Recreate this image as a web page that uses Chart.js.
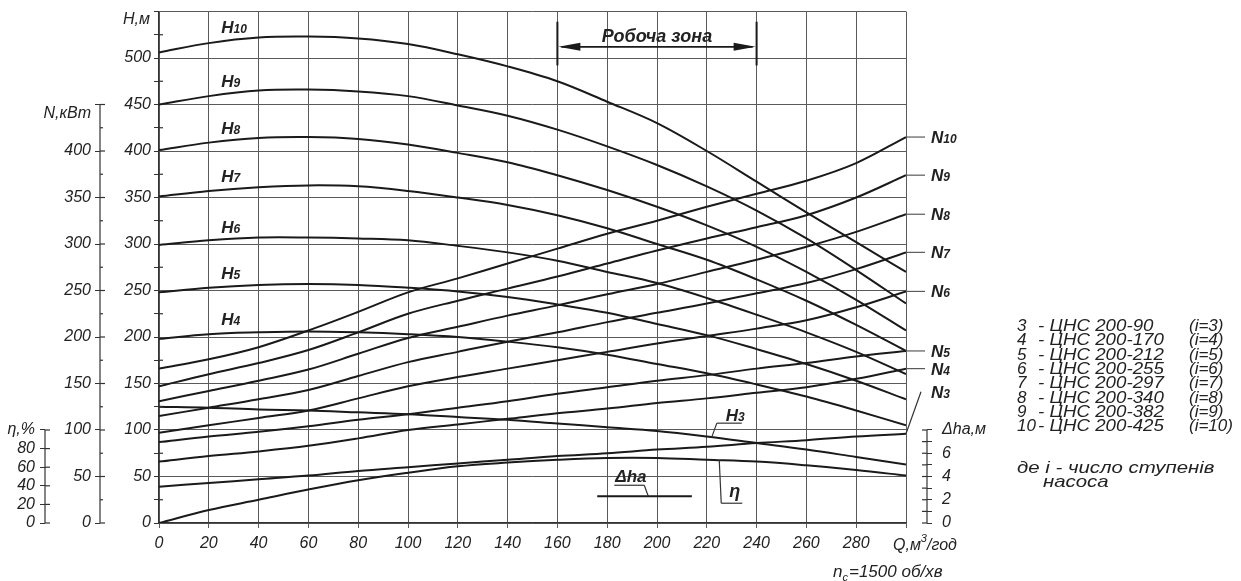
<!DOCTYPE html>
<html>
<head>
<meta charset="utf-8">
<script src="https://cdn.jsdelivr.net/npm/chart.js@4.4.1/dist/chart.umd.min.js"></script>
<style>
  html, body { margin: 0; padding: 0; background: #fff; }
  canvas { display: block; }
</style>
</head>
<body>
<canvas id="pumpChart" width="1241" height="581"></canvas>
<script>
// flow rate, m3/h
const Q = [0, 20, 40, 60, 80, 100, 120, 140, 160, 180, 200, 220, 240, 260, 280, 300];

// head H, m (one curve per number of stages)
const H10 = [506, 516, 522, 523, 521, 515, 504, 491, 475, 453, 430, 400, 367, 334, 302, 270];
const H9 = [450, 459, 465, 466, 464, 459, 449, 438, 423, 405, 385, 362, 336, 306, 272, 236];
const H8 = [401, 409, 414, 415, 413, 407, 398, 388, 374, 358, 340, 320, 297, 270, 240, 207];
const H7 = [351, 357, 361, 363, 362, 357, 350, 342, 331, 317, 300, 283, 262, 239, 213, 185];
const H6 = [299, 304, 307, 307, 306, 304, 298, 291, 282, 270, 258, 242, 224, 205, 184, 160];
const H5 = [248, 253, 256, 257, 256, 253, 249, 243, 235, 226, 214, 202, 187, 171, 153, 133];
const H4 = [198, 203, 205, 206, 205, 203, 200, 195, 189, 181, 171, 161, 149, 136, 121, 105];
const H3 = [125, 124, 122, 121, 119, 117, 114, 111, 107, 103, 99, 93, 86, 79, 71, 63];

// power N, kW
const N10 = [166, 176, 189, 207, 227, 248, 263, 279, 295, 311, 325, 340, 354, 368, 387, 415];
const N9 = [147, 160, 172, 186, 205, 225, 239, 252, 265, 279, 293, 306, 318, 331, 350, 374];
const N8 = [131, 142, 153, 165, 182, 199, 211, 223, 234, 246, 257, 270, 283, 297, 313, 332];
const N7 = [115, 124, 133, 143, 158, 173, 184, 195, 205, 216, 226, 236, 247, 258, 273, 291];
const N6 = [97, 105, 113, 121, 134, 147, 157, 166, 175, 184, 193, 201, 209, 218, 232, 249];
const N5 = [87, 93, 98, 104, 111, 117, 124, 131, 139, 146, 153, 159, 166, 172, 179, 185];
const N4 = [66, 72, 77, 83, 91, 100, 106, 112, 118, 123, 129, 134, 140, 146, 155, 166];
const N3 = [39, 43, 47, 51, 56, 60, 64, 68, 72, 75, 79, 82, 86, 89, 93, 96];

// efficiency, %
const ETA = [0, 14, 25, 36, 46, 54, 61, 65, 68, 70, 70, 68, 66, 62, 57, 51];

// NPSH required, m (only drawn inside working range)
const DHA_Q = [176, 214];
const DHA = [2.3, 2.3];

// working zone limits
const ZONE = [160, 240];

// legend rows
const PUMP_NO = ['3', '4', '5', '6', '7', '8', '9', '10'];
const PUMP_NAME = ['ЦНС 200-90', 'ЦНС 200-170', 'ЦНС 200-212', 'ЦНС 200-255',
  'ЦНС 200-297', 'ЦНС 200-340', 'ЦНС 200-382', 'ЦНС 200-425'];

const NARROW = "'Liberation Sans Narrow', 'Liberation Sans', Arial, sans-serif";
const SANS = "'Liberation Sans', Arial, sans-serif";
const INK = '#1a1a1a';
const GRID = '#5a5a5a';
const TEXT = '#222';
const NONE = 'rgba(0,0,0,0)';

Chart.defaults.font.family = NARROW;
Chart.defaults.color = TEXT;

function curve(label, values, axis) {
  return {
    label,
    data: values.map((v, i) => ({ x: Q[i], y: v })),
    yAxisID: axis,
    borderColor: INK,
    borderWidth: 2,
    pointRadius: 0,
    tension: 0.35,
    fill: false
  };
}

function at(arr, q) {
  for (let i = 1; i < Q.length; i++) {
    if (q <= Q[i]) {
      const t = (q - Q[i - 1]) / (Q[i] - Q[i - 1]);
      return arr[i - 1] + t * (arr[i] - arr[i - 1]);
    }
  }
  return arr[arr.length - 1];
}

// vertical axes must not push the plot top down
const noPad = w => s => { s.width = w; s.paddingTop = 0; s.paddingBottom = 0; };

const tickFont = { family: NARROW, size: 16, style: 'italic' };

const annot = {
  id: 'annot',
  afterDraw(chart) {
    const { ctx } = chart;
    const { x, yH, yN, yE, yD } = chart.scales;
    const px = (sc, v) => sc.getPixelForValue(v);
    const seg = (x1, y1, x2, y2) => { ctx.beginPath(); ctx.moveTo(x1, y1); ctx.lineTo(x2, y2); ctx.stroke(); };
    const tag = (letter, idx, tx, ty) => {
      ctx.font = `italic bold 17px ${SANS}`;
      ctx.fillText(letter, tx, ty);
      const w = ctx.measureText(letter).width;
      ctx.font = `italic bold 12px ${SANS}`;
      ctx.fillText(idx, tx + w, ty);
    };
    const wide = (text, tx, ty, sx) => {
      ctx.save();
      ctx.translate(tx, ty);
      ctx.scale(sx, 1);
      ctx.fillText(text, 0, 0);
      ctx.restore();
    };

    ctx.save();
    ctx.strokeStyle = '#333';
    ctx.lineWidth = 1.2;
    ctx.fillStyle = TEXT;

    // short axes drawn only over their value range
    seg(yN.right, px(yN, 0), yN.right, px(yN, 450));
    for (let v = 0; v <= 450; v += 25) seg(yN.right, px(yN, v), yN.right + (v % 50 ? 3 : 5), px(yN, v));
    seg(yE.right, px(yE, 0), yE.right, px(yE, 100));
    for (let v = 0; v <= 100; v += 20) seg(yE.right, px(yE, v), yE.right + 5, px(yE, v));
    seg(yD.left, px(yD, 0), yD.left, px(yD, 8));
    for (let v = 0; v <= 8; v++) seg(yD.left - 5, px(yD, v), yD.left, px(yD, v));
    for (let v = 25; v < 550; v += 50) seg(yH.right, px(yH, v), yH.right + 4, px(yH, v));

    // axis titles
    ctx.font = `italic 16px ${NARROW}`;
    ctx.textAlign = 'right';
    ctx.textBaseline = 'middle';
    ctx.fillText('H,м', yH.right - 9, px(yH, 550) + 8.5);
    ctx.fillText('N,кВт', yN.right - 9, px(yN, 450) + 9);

    ctx.textAlign = 'left';
    ctx.textBaseline = 'alphabetic';

    // head curve tags
    [['10', 527], ['9', 469], ['8', 418], ['7', 367], ['6', 312], ['5', 262], ['4', 213]]
      .forEach(([n, v]) => tag('H', n, px(x, 25), px(yH, v)));

    // power curve tags at the right edge
    ctx.strokeStyle = GRID;
    [['10', N10], ['9', N9], ['8', N8], ['7', N7], ['6', N6], ['5', N5], ['4', N4]].forEach(([n, arr]) => {
      const yy = px(yN, arr[arr.length - 1]);
      seg(x.right, yy, x.right + 19, yy);
      tag('N', n, x.right + 25, yy + 6);
    });
    ctx.strokeStyle = '#333';
    const y3 = px(yN, N3[N3.length - 1]);
    seg(x.right, y3, x.right + 15, y3 - 42);
    tag('N', '3', x.right + 25, y3 - 36);

    // H3 tag with leader
    let p0x = px(x, 222), p0y = px(yH, at(H3, 222));
    let p1x = p0x + 5, p1y = p0y - 14;
    seg(p0x, p0y, p1x, p1y);
    seg(p1x, p1y, p1x + 25, p1y);
    tag('H', '3', p1x + 9, p1y - 2);

    // efficiency tag
    p0x = px(x, 225); p0y = px(yE, at(ETA, 225));
    p1x = p0x + 2; p1y = p0y + 43;
    seg(p0x, p0y, p1x, p1y);
    seg(p1x, p1y, p1x + 21, p1y);
    ctx.font = `italic bold 18px ${SANS}`;
    ctx.fillText('η', p1x + 8, p1y - 6);

    // NPSH tag
    p0x = px(x, 196.5); p0y = px(yD, DHA[0]);
    p1x = p0x - 4; p1y = p0y - 11;
    seg(p0x, p0y, p1x, p1y);
    seg(p1x - 30, p1y, p1x, p1y);
    ctx.font = `italic bold 17px ${SANS}`;
    ctx.fillText('Δha', p1x - 29, p1y - 3);

    // working zone
    const xa = px(x, ZONE[0]), xb = px(x, ZONE[1]);
    const zTop = px(yH, 539), zBot = px(yH, 492), zArr = px(yH, 512);
    ctx.strokeStyle = INK;
    ctx.fillStyle = INK;
    ctx.lineWidth = 2;
    seg(xa, zTop, xa, zBot);
    seg(xb, zTop, xb, zBot);
    ctx.lineWidth = 1.6;
    seg(xa + 4, zArr, xb - 4, zArr);
    ctx.beginPath(); ctx.moveTo(xa + 1, zArr); ctx.lineTo(xa + 23, zArr - 4); ctx.lineTo(xa + 23, zArr + 4); ctx.closePath(); ctx.fill();
    ctx.beginPath(); ctx.moveTo(xb - 1, zArr); ctx.lineTo(xb - 23, zArr - 4); ctx.lineTo(xb - 23, zArr + 4); ctx.closePath(); ctx.fill();
    ctx.fillStyle = TEXT;
    ctx.font = `italic bold 18px ${SANS}`;
    ctx.textAlign = 'center';
    ctx.fillText('Робоча зона', px(x, 200), zArr - 5);
    ctx.textAlign = 'left';

    // x axis title and speed note
    let tx = x.right - 13;
    ctx.font = `italic 16px ${NARROW}`;
    ctx.fillText('Q,м', tx, 550);
    tx += ctx.measureText('Q,м').width;
    ctx.font = `italic 11px ${NARROW}`;
    ctx.fillText('3', tx, 542);
    tx += ctx.measureText('3').width;
    ctx.font = `italic 16px ${NARROW}`;
    ctx.fillText('/год', tx, 550);

    tx = 833;
    ctx.font = `italic 17px ${SANS}`;
    ctx.fillText('n', tx, 577);
    tx += ctx.measureText('n').width;
    ctx.font = `italic 11px ${SANS}`;
    ctx.fillText('c', tx, 581);
    tx += ctx.measureText('c').width + 1;
    ctx.font = `italic 17px ${SANS}`;
    ctx.fillText('=1500 об/хв', tx, 577);

    // legend block
    ctx.font = `italic 17px ${SANS}`;
    PUMP_NO.forEach((n, i) => {
      const yy = 331 + i * 14.3;
      ctx.fillText(n, 1017, yy);
      wide('- ' + PUMP_NAME[i], 1038, yy, 1.1);
      ctx.fillText('(i=' + n + ')', 1189, yy);
    });
    wide('де і - число ступенів', 1017, 472.5, 1.2);
    wide('насоса', 1043, 486.5, 1.2);

    ctx.restore();
  }
};

new Chart(document.getElementById('pumpChart'), {
  type: 'line',
  data: {
    datasets: [
      curve('H10', H10, 'yH'), curve('H9', H9, 'yH'), curve('H8', H8, 'yH'), curve('H7', H7, 'yH'),
      curve('H6', H6, 'yH'), curve('H5', H5, 'yH'), curve('H4', H4, 'yH'), curve('H3', H3, 'yH'),
      curve('N10', N10, 'yN'), curve('N9', N9, 'yN'), curve('N8', N8, 'yN'), curve('N7', N7, 'yN'),
      curve('N6', N6, 'yN'), curve('N5', N5, 'yN'), curve('N4', N4, 'yN'), curve('N3', N3, 'yN'),
      curve('η', ETA, 'yE'),
      {
        label: 'Δha',
        data: DHA_Q.map((q, i) => ({ x: q, y: DHA[i] })),
        yAxisID: 'yD',
        borderColor: INK,
        borderWidth: 2,
        pointRadius: 0
      }
    ]
  },
  options: {
    responsive: false,
    animation: false,
    layout: { padding: { left: 0, top: 11.5, right: 254, bottom: 0 } },
    plugins: { legend: { display: false }, tooltip: { enabled: false } },
    scales: {
      x: {
        type: 'linear', min: 0, max: 300,
        afterFit: s => { s.height = 58; },
        ticks: { stepSize: 20, autoSkip: false, maxRotation: 0, padding: 6, font: tickFont,
          callback: v => (v < 300 ? v : '') },
        grid: { color: GRID, lineWidth: 1, tickLength: 5, tickColor: GRID },
        border: { color: '#333', width: 1.2 }
      },
      yH: {
        position: 'left', weight: 0, min: 0, max: 550,
        afterFit: noPad(59),
        ticks: { stepSize: 25, autoSkip: false, padding: 3, font: tickFont,
          callback: v => (v % 50 === 0 && v <= 500 ? v : '') },
        grid: { color: c => (c.tick && c.tick.value % 50 === 0 ? GRID : NONE),
          tickColor: '#333', tickLength: 5 },
        border: { color: '#333', width: 1.2 }
      },
      yN: {
        position: 'left', weight: 1, min: 0, max: 550,
        afterFit: noPad(55),
        ticks: { stepSize: 25, autoSkip: false, padding: 4, font: tickFont,
          callback: v => (v % 50 === 0 && v <= 400 ? v : '') },
        grid: { drawOnChartArea: false, tickLength: 5,
          tickColor: c => (c.tick && c.tick.value <= 450 && c.tick.value % 50 === 0 ? '#333' : NONE) },
        border: { display: false }
      },
      yE: {
        position: 'left', weight: 2, min: 0, max: 550,
        afterFit: noPad(45),
        ticks: { stepSize: 20, autoSkip: false, padding: 5, font: tickFont,
          callback: v => (v === 100 ? 'η,%' : (v < 100 ? v : '')) },
        grid: { drawOnChartArea: false, tickLength: 5,
          tickColor: c => (c.tick && c.tick.value <= 100 ? '#333' : NONE) },
        border: { display: false }
      },
      yPad: {
        position: 'right', weight: 0, min: 0, max: 1,
        afterFit: noPad(21),
        ticks: { display: false },
        grid: { display: false },
        border: { display: false }
      },
      yD: {
        position: 'right', weight: 1, min: 0, max: 44,
        afterFit: noPad(60),
        ticks: { stepSize: 1, autoSkip: false, padding: 10, font: tickFont,
          callback: v => (v === 8 ? 'Δha,м' : (v < 8 && v % 2 === 0 ? v : '')) },
        grid: { drawOnChartArea: false, tickLength: 5,
          tickColor: c => (c.tick && c.tick.value <= 8 ? '#333' : NONE) },
        border: { display: false }
      }
    }
  },
  plugins: [annot]
});
</script>
</body>
</html>
